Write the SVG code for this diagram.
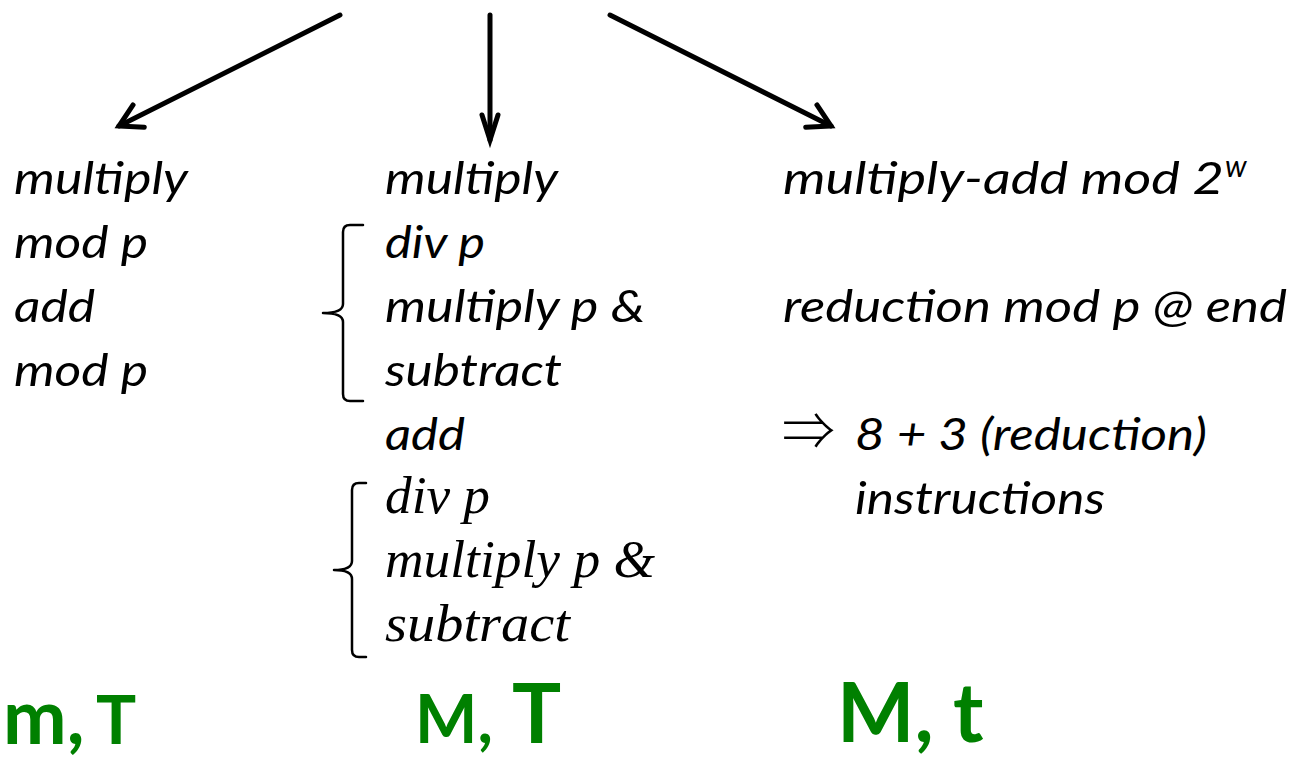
<svg xmlns="http://www.w3.org/2000/svg" width="1291" height="759" viewBox="0 0 1291 759">
  <style>
    .op { font-family: Lato, "Open Sans", "Liberation Sans", sans-serif; font-style: italic; font-size: 45px; fill: #000; }
    .opm { font-family: "Liberation Serif", "DejaVu Serif", serif; font-style: italic; font-size: 52px; fill: #000; }
    .sym { font-family: "Noto Sans CJK JP", "DejaVu Sans", sans-serif; font-size: 52px; font-weight: 300; fill: #000; }
    .cost { font-family: Lato, "Open Sans", "Liberation Sans", sans-serif; font-weight: 700; fill: #008000; }
    .brace { fill: none; stroke: #000; stroke-width: 2.5; stroke-linejoin: round; stroke-linecap: round; }
    .edge { fill: none; stroke: #000; stroke-width: 5; stroke-linecap: round; }
    .head { fill: none; stroke: #000; stroke-width: 5; stroke-linecap: round; stroke-linejoin: miter; }
  </style>
  <defs>
    <marker id="openArrow" markerUnits="userSpaceOnUse" markerWidth="60" markerHeight="60" refX="0" refY="0" viewBox="-30 -30 60 60" orient="auto">
      <path class="head" d="M-22,-12.5 L0,0 L-22,12.5"/>
    </marker>
    <marker id="narrowArrow" markerUnits="userSpaceOnUse" markerWidth="60" markerHeight="60" refX="0" refY="0" viewBox="-30 -30 60 60" orient="auto">
      <path class="head" d="M-25,-8 L0,0 L-25,8"/>
    </marker>
  </defs>

  <!-- connectors fanning out to the three strategies -->
  <g id="connectors">
    <line class="edge" x1="340" y1="15" x2="119" y2="126" marker-end="url(#openArrow)"/>
    <line class="edge" x1="490" y1="15" x2="490" y2="140" marker-end="url(#narrowArrow)"/>
    <line class="edge" x1="610" y1="15" x2="831" y2="126" marker-end="url(#openArrow)"/>
  </g>

  <!-- left: reduce after every step -->
  <g id="node-left">
    <text class="op" x="14" y="194" textLength="174" lengthAdjust="spacingAndGlyphs">multiply</text>
    <text class="op" x="14" y="258" textLength="134" lengthAdjust="spacingAndGlyphs">mod p</text>
    <text class="op" x="14" y="322" textLength="81" lengthAdjust="spacingAndGlyphs">add</text>
    <text class="op" x="14" y="386" textLength="134" lengthAdjust="spacingAndGlyphs">mod p</text>
    <text class="cost" y="744"><tspan x="3" font-size="76">m</tspan><tspan font-size="76">,</tspan><tspan x="96" font-size="67">T</tspan></text>
  </g>

  <!-- middle: mod p spelled out as div / multiply / subtract -->
  <g id="node-middle">
    <text class="op" x="385" y="194" textLength="173" lengthAdjust="spacingAndGlyphs">multiply</text>
    <path class="brace" d="M363,225 H350 Q343,225 343,232 V304 Q343,313 323,313 Q343,313 343,322 V394 Q343,401 350,401 H363"/>
    <text class="op" x="385" y="258" textLength="100" lengthAdjust="spacingAndGlyphs">div p</text>
    <text class="op" x="385" y="322" textLength="260" lengthAdjust="spacingAndGlyphs">multiply p &amp;</text>
    <text class="op" x="385" y="386" textLength="177" lengthAdjust="spacingAndGlyphs">subtract</text>
    <text class="op" x="385" y="450" textLength="80" lengthAdjust="spacingAndGlyphs">add</text>
    <path class="brace" d="M366,483 H359 Q352,483 352,490 V561 Q352,570 334,570 Q352,570 352,579 V650 Q352,657 359,657 H366"/>
    <text class="opm" x="385" y="513" textLength="105" lengthAdjust="spacingAndGlyphs">div p</text>
    <text class="opm" x="385" y="577" textLength="270" lengthAdjust="spacingAndGlyphs">multiply p &amp;</text>
    <text class="opm" x="385" y="641" textLength="185" lengthAdjust="spacingAndGlyphs">subtract</text>
    <text class="cost" y="743"><tspan x="415" font-size="66">M</tspan><tspan font-size="66">,</tspan><tspan x="512" font-size="82">T</tspan></text>
  </g>

  <!-- right: multiply-add mod 2^w, reduce once at the end -->
  <g id="node-right">
    <text class="op" x="783" y="194"><tspan textLength="441" lengthAdjust="spacingAndGlyphs">multiply-add mod 2</tspan><tspan x="1225" dy="-17" font-size="30">w</tspan></text>
    <text class="op" x="783" y="322" textLength="504" lengthAdjust="spacingAndGlyphs">reduction mod p @ end</text>
    <text y="450"><tspan class="sym" x="782" textLength="53" lengthAdjust="spacingAndGlyphs">⇒</tspan><tspan class="op" x="855" textLength="352" lengthAdjust="spacingAndGlyphs">8 + 3 (reduction)</tspan></text>
    <text class="op" x="855" y="514" textLength="250" lengthAdjust="spacingAndGlyphs">instructions</text>
    <text class="cost" y="742"><tspan x="837" font-size="82">M</tspan><tspan font-size="82">,</tspan><tspan x="953" font-size="82">t</tspan></text>
  </g>
</svg>
